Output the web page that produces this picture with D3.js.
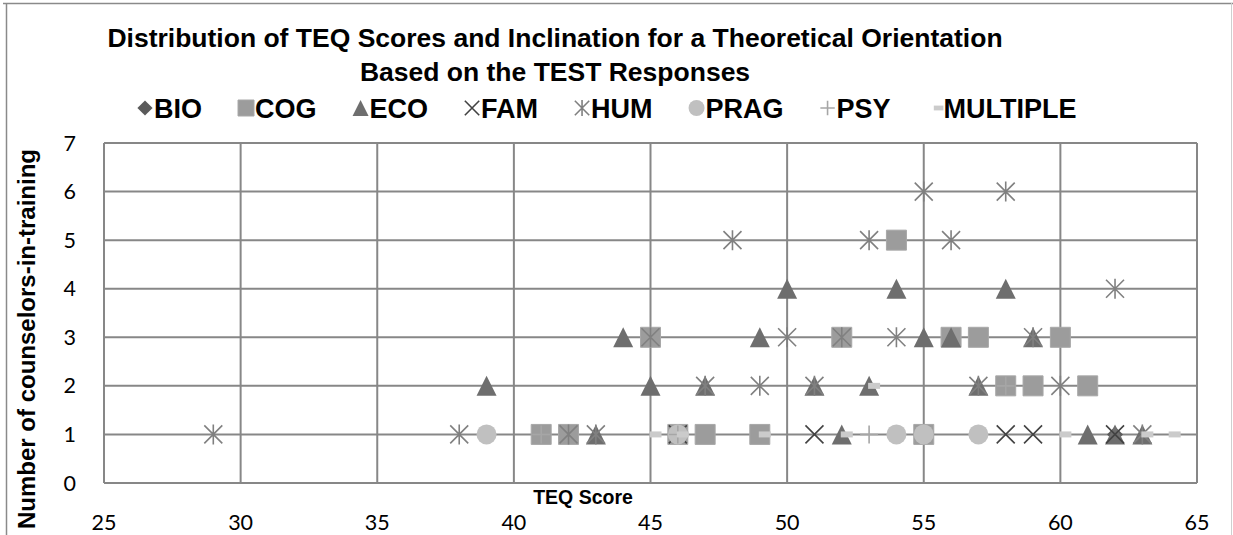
<!DOCTYPE html>
<html>
<head>
<meta charset="utf-8">
<script src="https://cdn.jsdelivr.net/npm/d3@7"></script>
<style>
    body { margin: 0; background: #fff; }
    svg { display: block; }
    .bold { font-family: "Liberation Sans", Arial, sans-serif; font-weight: bold; fill: #000; }
    .tick-label { font-family: Lato, "Open Sans", sans-serif; font-size: 21.5px; fill: #000; }
</style>
</head>
<body>
<svg id="chart" width="1233" height="535"></svg>
<script>
// --- DATA ---
const seriesNames = ['BIO', 'COG', 'ECO', 'FAM', 'HUM', 'PRAG', 'PSY', 'MULTIPLE'];
const xTicks = [25, 30, 35, 40, 45, 50, 55, 60, 65];
const yTicks = [0, 1, 2, 3, 4, 5, 6, 7];

// [TEQ score, number of counselors]
const bioPoints = [[62, 1]];
const cogPoints = [[41, 1], [42, 1], [46, 1], [47, 1], [49, 1], [55, 1],
    [58, 2], [59, 2], [61, 2], [45, 3], [52, 3], [56, 3], [57, 3], [60, 3], [54, 5]];
const ecoPoints = [[43, 1], [52, 1], [61, 1], [62, 1], [63, 1],
    [39, 2], [45, 2], [47, 2], [51, 2], [53, 2], [57, 2],
    [44, 3], [49, 3], [55, 3], [56, 3], [59, 3], [50, 4], [54, 4], [58, 4]];
const famPoints = [[46, 1], [51, 1], [58, 1], [59, 1], [62, 1]];
const humPoints = [[29, 1], [38, 1], [42, 1], [43, 1], [63, 1],
    [47, 2], [49, 2], [51, 2], [57, 2], [60, 2],
    [45, 3], [50, 3], [52, 3], [54, 3], [59, 3], [62, 4],
    [48, 5], [53, 5], [56, 5], [55, 6], [58, 6]];
const pragPoints = [[39, 1], [46, 1], [54, 1], [55, 1], [57, 1]];
const psyPoints = [[41, 1], [46, 1], [53, 1], [58, 2]];
const multiplePoints = [[45, 1], [46, 1], [49, 1], [52, 1], [60, 1], [63, 1], [64, 1], [53, 2]];

const seriesData = [bioPoints, cogPoints, ecoPoints, famPoints, humPoints, pragPoints, psyPoints, multiplePoints];

// --- SETUP ---
const svg = d3.select('#chart');
const margin = { left: 104, right: 1197, top: 143, bottom: 483 };

const x = d3.scaleLinear().domain([25, 65]).range([margin.left, margin.right]);
const y = d3.scaleLinear().domain([0, 7]).range([margin.bottom, margin.top]);

// outer frame
svg.append('line').attr('x1', 3).attr('x2', 1233).attr('y1', 3.5).attr('y2', 3.5)
    .attr('stroke', '#8a8a8a').attr('stroke-width', 1.5);
svg.append('line').attr('x1', 6.5).attr('x2', 6.5).attr('y1', 3).attr('y2', 535)
    .attr('stroke', '#8a8a8a').attr('stroke-width', 1.5);
svg.append('line').attr('x1', 1231.5).attr('x2', 1231.5).attr('y1', 3).attr('y2', 535)
    .attr('stroke', '#cfcfcf').attr('stroke-width', 1);

// --- GRID ---
const grid = svg.append('g').attr('stroke', '#878787').attr('stroke-width', 2);
grid.selectAll('.vg').data(xTicks).enter().append('line')
    .attr('x1', d => x(d)).attr('x2', d => x(d))
    .attr('y1', y(7)).attr('y2', y(0));
grid.selectAll('.hg').data(yTicks).enter().append('line')
    .attr('x1', x(25)).attr('x2', x(65))
    .attr('y1', d => y(d)).attr('y2', d => y(d));

// --- AXES LABELS ---
svg.append('g').selectAll('text').data(xTicks).enter().append('text')
    .attr('class', 'tick-label')
    .attr('x', d => x(d)).attr('y', 530)
    .attr('text-anchor', 'middle')
    .text(d => d);

svg.append('g').selectAll('text').data(yTicks).enter().append('text')
    .attr('class', 'tick-label')
    .attr('x', 76).attr('y', d => y(d)).attr('dy', '0.35em')
    .attr('text-anchor', 'end')
    .text(d => d);

svg.append('text').attr('class', 'bold').attr('font-size', 19.5)
    .attr('x', 583).attr('y', 504).attr('text-anchor', 'middle')
    .text('TEQ Score');

svg.append('text').attr('class', 'bold').attr('font-size', 24)
    .attr('transform', 'translate(35,339) rotate(-90)')
    .attr('text-anchor', 'middle')
    .text('Number of counselors-in-training');

// --- TITLE ---
svg.append('text').attr('class', 'bold').attr('font-size', 26.5)
    .attr('x', 555).attr('y', 47).attr('text-anchor', 'middle')
    .text('Distribution of TEQ Scores and Inclination for a Theoretical Orientation');
svg.append('text').attr('class', 'bold').attr('font-size', 26.5)
    .attr('x', 555).attr('y', 81).attr('text-anchor', 'middle')
    .text('Based on the TEST Responses');

// --- MARKERS ---
function markerPath(name, s) {
    switch (name) {
        case 'BIO': return `M0,${-8 * s}L${8 * s},0L0,${8 * s}L${-8 * s},0Z`;
        case 'COG': return `M${-10 * s},${-10 * s}H${10 * s}V${10 * s}H${-10 * s}Z`;
        case 'ECO': return `M0,${-10 * s}L${10 * s},${10 * s}H${-10 * s}Z`;
        case 'FAM': return `M${-9 * s},${-9 * s}L${9 * s},${9 * s}M${9 * s},${-9 * s}L${-9 * s},${9 * s}`;
        case 'HUM': return `M${-9 * s},${-9 * s}L${9 * s},${9 * s}M${9 * s},${-9 * s}L${-9 * s},${9 * s}M0,${-10 * s}V${10 * s}`;
        case 'PRAG': return d3.arc()({ innerRadius: 0, outerRadius: 10 * s, startAngle: 0, endAngle: 2 * Math.PI });
        case 'PSY': return `M${-9 * s},0H${9 * s}M0,${-9 * s}V${9 * s}`;
        case 'MULTIPLE': return `M${-1 * s},${-3 * s}H${11 * s}V${3 * s}H${-1 * s}Z`;
    }
}

function markerStyle(sel, name) {
    switch (name) {
        case 'BIO': return sel.attr('fill', '#5a5a5a');
        case 'COG': return sel.attr('fill', '#9c9c9c').attr('stroke', '#a8a8a8').attr('stroke-width', 1);
        case 'ECO': return sel.attr('fill', '#6e6e6e');
        case 'FAM': return sel.attr('fill', 'none').attr('stroke', '#424242').attr('stroke-width', 1.6);
        case 'HUM': return sel.attr('fill', 'none').attr('stroke', '#808080').attr('stroke-width', 1.6);
        case 'PRAG': return sel.attr('fill', '#c0c0c0');
        case 'PSY': return sel.attr('fill', 'none').attr('stroke', '#a6a6a6').attr('stroke-width', 1.6);
        case 'MULTIPLE': return sel.attr('fill', '#cbcbcb');
    }
}

seriesNames.forEach((name, i) => {
    const g = svg.append('g').attr('class', 'series-' + name);
    g.selectAll('path').data(seriesData[i]).enter().append('path')
        .attr('d', markerPath(name, 1))
        .attr('transform', d => `translate(${x(d[0])},${y(d[1])})`)
        .call(markerStyle, name);
});

// --- LEGEND ---
const legend = svg.append('g').attr('class', 'legend');
let lx = 145;
seriesNames.forEach(name => {
    const item = legend.append('g');
    item.append('path')
        .attr('d', markerPath(name, name === 'BIO' ? 0.95 : 0.8))
        .attr('transform', `translate(${lx},108)`)
        .call(markerStyle, name);
    const t = item.append('text').attr('class', 'bold').attr('font-size', 27)
        .attr('x', lx + 9).attr('y', 117.5)
        .text(name);
    lx += 9 + t.node().getComputedTextLength() + 44;
});
</script>
</body>
</html>
